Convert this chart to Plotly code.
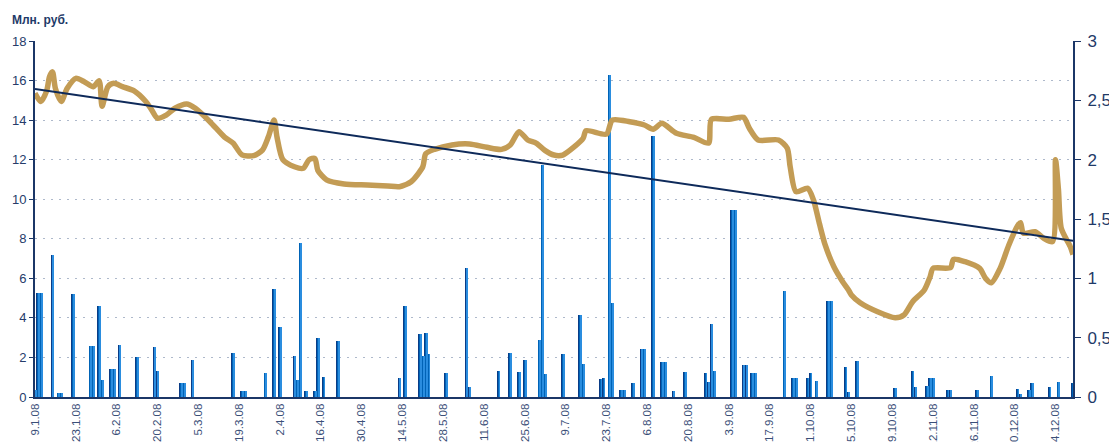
import plotly.graph_objects as go

# ---- data ----
bar_dates = [
    "2008-01-09", "2008-01-10", "2008-01-11", "2008-01-15", "2008-01-17", "2008-01-18",
    "2008-01-22", "2008-01-28", "2008-01-29", "2008-01-31", "2008-02-01", "2008-02-04",
    "2008-02-05", "2008-02-07", "2008-02-13", "2008-02-19", "2008-02-20", "2008-02-28",
    "2008-02-29", "2008-03-03", "2008-03-17", "2008-03-20", "2008-03-21", "2008-03-28",
    "2008-03-31", "2008-04-02", "2008-04-07", "2008-04-08", "2008-04-09", "2008-04-11",
    "2008-04-14", "2008-04-15", "2008-04-17", "2008-04-22", "2008-05-13", "2008-05-15",
    "2008-05-20", "2008-05-21", "2008-05-22", "2008-05-23", "2008-05-29", "2008-06-05",
    "2008-06-06", "2008-06-16", "2008-06-20", "2008-06-23", "2008-06-25", "2008-06-30",
    "2008-07-01", "2008-07-02", "2008-07-08", "2008-07-14", "2008-07-15", "2008-07-21",
    "2008-07-22", "2008-07-24", "2008-07-25", "2008-07-28", "2008-07-29", "2008-08-01",
    "2008-08-04", "2008-08-05", "2008-08-08", "2008-08-11", "2008-08-12", "2008-08-15",
    "2008-08-19", "2008-08-26", "2008-08-27", "2008-08-28", "2008-08-29", "2008-09-04",
    "2008-09-05", "2008-09-08", "2008-09-09", "2008-09-11", "2008-09-12", "2008-09-22",
    "2008-09-25", "2008-09-26", "2008-09-30", "2008-10-01", "2008-10-03", "2008-10-07",
    "2008-10-08", "2008-10-13", "2008-10-14", "2008-10-17", "2008-10-30", "2008-11-05",
    "2008-11-06", "2008-11-10", "2008-11-11", "2008-11-12", "2008-11-17", "2008-11-18",
    "2008-11-27", "2008-12-02", "2008-12-11", "2008-12-12", "2008-12-15", "2008-12-16",
    "2008-12-22", "2008-12-25", "2008-12-30",
]
bar_volume = [
    0.35, 5.25, 5.25, 7.2, 0.22, 0.22,
    5.2, 2.6, 2.6, 4.6, 0.88, 1.44,
    1.44, 2.61, 2.0, 2.51, 1.29, 0.73,
    0.73, 1.85, 2.25, 0.32, 0.32, 1.19,
    5.46, 3.53, 2.05, 0.88, 7.8, 0.32,
    0.32, 2.97, 1.03, 2.81, 0.98, 4.59,
    3.17, 2.05, 3.22, 2.15, 1.19, 6.53,
    0.53, 1.34, 2.25, 1.24, 1.85, 2.86,
    11.73, 1.14, 2.15, 4.14, 1.69, 0.93,
    0.98, 16.3, 4.75, 0.37, 0.37, 0.73,
    2.41, 2.41, 13.2, 1.75, 1.75, 0.32,
    1.24, 1.19, 0.78, 3.68, 1.29, 9.45,
    9.45, 1.64, 1.64, 1.19, 1.19, 5.36,
    0.98, 0.98, 0.98, 1.19, 0.83, 4.85,
    4.85, 1.54, 0.27, 1.8, 0.47, 1.34,
    0.53, 0.58, 0.98, 0.98, 0.37, 0.37,
    0.37, 1.08, 0.42, 0.17, 0.37, 0.73,
    0.53, 0.78, 0.73,
]

price_dates = [
    "2008-01-09", "2008-01-11", "2008-01-13", "2008-01-14", "2008-01-15", "2008-01-16",
    "2008-01-18", "2008-01-20", "2008-01-23", "2008-01-26", "2008-01-29", "2008-01-31",
    "2008-02-01", "2008-02-03", "2008-02-05", "2008-02-08", "2008-02-12", "2008-02-16",
    "2008-02-18", "2008-02-20", "2008-02-23", "2008-02-26", "2008-03-01", "2008-03-04",
    "2008-03-09", "2008-03-14", "2008-03-17", "2008-03-20", "2008-03-24", "2008-03-27",
    "2008-03-29", "2008-03-31", "2008-04-01", "2008-04-03", "2008-04-07", "2008-04-10",
    "2008-04-12", "2008-04-14", "2008-04-15", "2008-04-18", "2008-04-24", "2008-05-02",
    "2008-05-09", "2008-05-13", "2008-05-17", "2008-05-21", "2008-05-22", "2008-05-25",
    "2008-05-31", "2008-06-06", "2008-06-12", "2008-06-17", "2008-06-20", "2008-06-23",
    "2008-06-26", "2008-06-29", "2008-07-02", "2008-07-05", "2008-07-08", "2008-07-12",
    "2008-07-15", "2008-07-16", "2008-07-23", "2008-07-25", "2008-07-31", "2008-08-05",
    "2008-08-08", "2008-08-11", "2008-08-16", "2008-08-22", "2008-08-27", "2008-08-28",
    "2008-09-03", "2008-09-08", "2008-09-10", "2008-09-13", "2008-09-20", "2008-09-23",
    "2008-09-24", "2008-09-26", "2008-09-30", "2008-10-02", "2008-10-04", "2008-10-06",
    "2008-10-09", "2008-10-12", "2008-10-14", "2008-10-15", "2008-10-18", "2008-10-24",
    "2008-10-30", "2008-11-02", "2008-11-05", "2008-11-09", "2008-11-11", "2008-11-12",
    "2008-11-18", "2008-11-19", "2008-11-23", "2008-11-28", "2008-11-30", "2008-12-02",
    "2008-12-05", "2008-12-08", "2008-12-11", "2008-12-12", "2008-12-13", "2008-12-17",
    "2008-12-20", "2008-12-23", "2008-12-24", "2008-12-25", "2008-12-26", "2008-12-29",
    "2008-12-30",
]
price_values = [
    2.56, 2.49, 2.58, 2.70, 2.74, 2.60,
    2.49, 2.60, 2.685, 2.655, 2.615, 2.665,
    2.45, 2.615, 2.643, 2.615, 2.58, 2.49,
    2.42, 2.35, 2.376, 2.433, 2.469, 2.433,
    2.32, 2.19, 2.138, 2.04, 2.034, 2.08,
    2.19, 2.334, 2.19, 2.0, 1.94, 1.927,
    2.0, 2.01, 1.91, 1.83, 1.795, 1.786,
    1.778, 1.772, 1.814, 1.94, 2.05, 2.087,
    2.124, 2.132, 2.104, 2.087, 2.124, 2.236,
    2.166, 2.138, 2.076, 2.039, 2.039, 2.109,
    2.18, 2.244, 2.216, 2.334, 2.32, 2.292,
    2.256, 2.306, 2.222, 2.188, 2.14, 2.34,
    2.34, 2.357, 2.264, 2.166, 2.166, 2.096,
    1.94, 1.73, 1.759, 1.66, 1.464, 1.281,
    1.098, 0.972, 0.902, 0.86, 0.795, 0.719,
    0.668, 0.691, 0.803, 0.902, 1.014, 1.084,
    1.09, 1.16, 1.14, 1.084, 1.0, 0.963,
    1.084, 1.281, 1.443, 1.469, 1.38, 1.393,
    1.337, 1.31, 2.0, 1.75, 1.42, 1.27,
    1.2,
]

trend_dates = ["2008-01-09", "2008-12-30"]
trend_values = [2.595, 1.317]

x_range = ["2008-01-09", "2008-12-30"]
tick_start = "2008-01-09"
tick_step_days = 14

title_text = "Млн. руб."

# ---- styles ----
DAY = 86400000
NAVY = "#1B3667"
FONT = "Liberation Sans, Arial, sans-serif"

fig = go.Figure()

segments = [(-0.45, "#0A3C86"), (-0.15, "#0063B6"), (0.15, "#2A8DDF")]
for off, col in segments:
    fig.add_trace(go.Bar(
        x=bar_dates, y=bar_volume,
        width=0.3 * DAY, offset=off * DAY,
        marker=dict(color=col, line=dict(width=0)),
        showlegend=False, hoverinfo="x+y",
    ))

fig.add_trace(go.Scatter(
    x=price_dates, y=price_values, mode="lines", yaxis="y2",
    line=dict(color="#C39C55", width=5.5, shape="spline", smoothing=0.7),
    showlegend=False,
))

fig.add_trace(go.Scatter(
    x=trend_dates, y=trend_values, mode="lines", yaxis="y2",
    line=dict(color="#0E2A5A", width=2),
    showlegend=False,
))

# page body has an 8px margin, so the figure is sized/positioned to compensate
fig.update_layout(
    width=1109, height=434,
    margin=dict(l=27, r=44, t=33, b=45, pad=0),
    paper_bgcolor="white", plot_bgcolor="white",
    barmode="overlay", bargap=0,
    separators=", ",
    font=dict(family=FONT, color=NAVY),
    xaxis=dict(
        type="date", range=x_range,
        tick0=tick_start, dtick=tick_step_days * DAY,
        tickformat="%-d.%-m.%y", tickangle=-90,
        tickfont=dict(size=11.5, color="#3B4F78", family=FONT),
        showgrid=False, zeroline=False,
        showline=True, linecolor=NAVY, linewidth=2,
        ticks="", ticklabelstandoff=0,
        automargin=False,
    ),
    yaxis=dict(
        range=[0, 18], dtick=2,
        tickfont=dict(size=13, color="#263C6A", family=FONT),
        showgrid=True, gridcolor="#AEB9CB", griddash="2px,6px", gridwidth=1,
        zeroline=False,
        showline=True, linecolor=NAVY, linewidth=2,
        ticks="outside", ticklen=4, tickcolor=NAVY,
        automargin=False,
    ),
    yaxis2=dict(
        range=[0, 3], dtick=0.5, overlaying="y", side="right",
        tickfont=dict(size=17, color="#1F3A68", family=FONT),
        showgrid=False, zeroline=False,
        showline=True, linecolor=NAVY, linewidth=2,
        ticks="outside", ticklen=6, tickcolor=NAVY,
        ticklabelstandoff=3,
        automargin=False,
    ),
    annotations=[dict(
        text="<b>" + title_text + "</b>", xref="paper", yref="paper",
        x=-0.0241, y=1.059, xanchor="left", yanchor="middle", showarrow=False,
        font=dict(size=12, color="#1F3A68", family=FONT),
    )],
)

fig.write_html("out.html")
